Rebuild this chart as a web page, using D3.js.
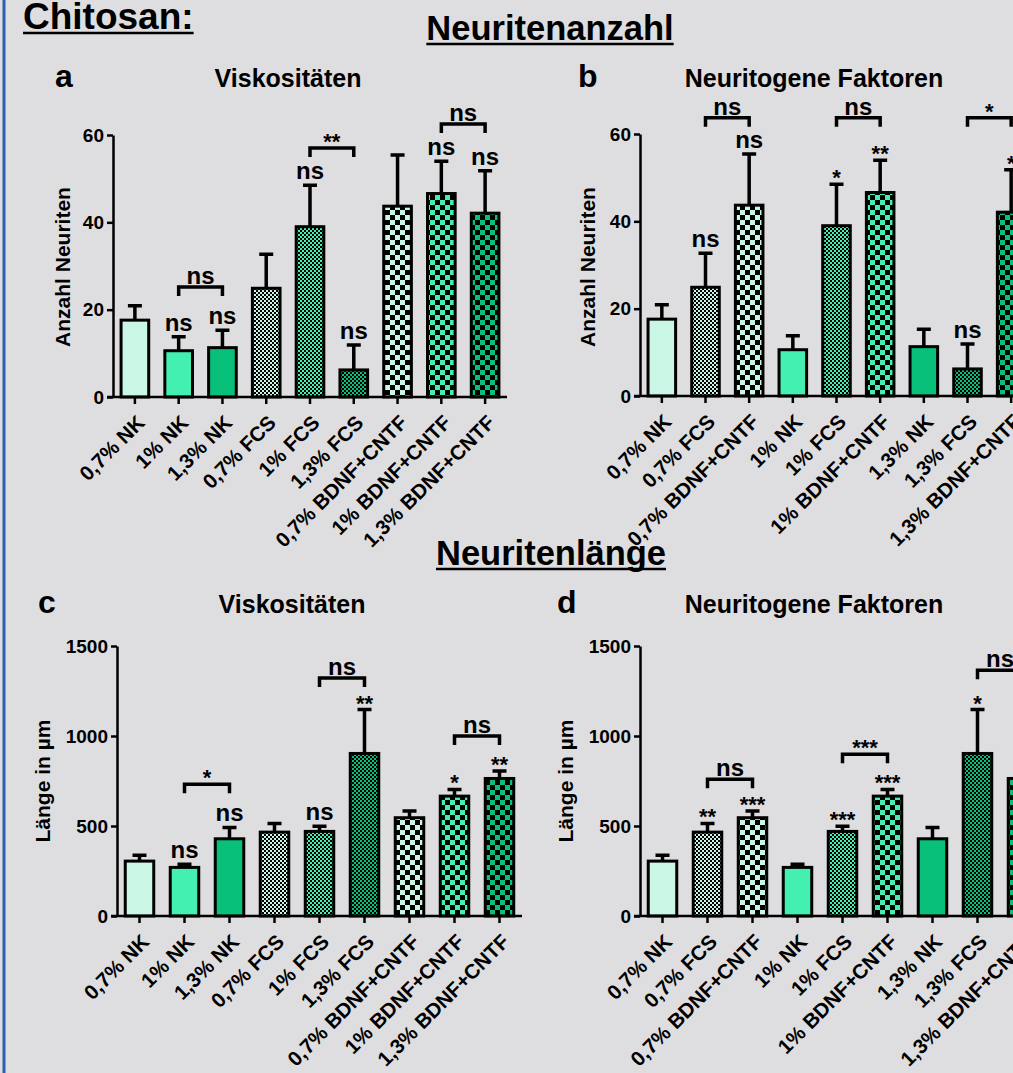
<!DOCTYPE html>
<html>
<head>
<meta charset="utf-8">
<script src="https://cdn.jsdelivr.net/npm/d3@7"></script>
<style>
  body { margin: 0; background: #dedee0; overflow: hidden; }
  svg text { font-family: "Liberation Sans", Arial, sans-serif; font-weight: bold; fill: #000; }
</style>
</head>
<body>
<div id="chart"></div>
<script>
// groups in "Viskositäten" order
var groupLabels = ["0,7% NK", "1% NK", "1,3% NK", "0,7% FCS", "1% FCS", "1,3% FCS",
  "0,7% BDNF+CNTF", "1% BDNF+CNTF", "1,3% BDNF+CNTF"];
var viscOrder = [0, 1, 2, 3, 4, 5, 6, 7, 8];
var factorOrder = [0, 3, 6, 1, 4, 7, 2, 5, 8];
var barConc = [0, 1, 2, 0, 1, 2, 0, 1, 2];
var barType = ["nk", "nk", "nk", "fcs", "fcs", "fcs", "bdnf", "bdnf", "bdnf"];
var concColors = ["#c9f6e5", "#44f0b1", "#09c07b"];

// Neuritenanzahl (mean, SEM)
var countMean = [17.6, 10.6, 11.3, 24.9, 39.0, 6.2, 43.7, 46.6, 42.1];
var countSem = [3.3, 3.2, 4.0, 7.8, 9.5, 5.7, 11.7, 7.4, 9.7];
// Neuritenlänge in µm (mean, SEM)
var lengthMean = [305, 270, 429, 466, 470, 903, 546, 666, 764];
var lengthSem = [32, 18, 63, 48, 29, 244, 37, 37, 42];

var countTicks = [0, 20, 40, 60];
var lengthTicks = [0, 500, 1000, 1500];

// significance above each bar (in plotted order)
var starsA = ["", "ns", "ns", "", "ns", "ns", "", "ns", "ns"];
var starsB = ["", "ns", "ns", "", "*", "**", "", "ns", "*"];
var starsC = ["", "ns", "ns", "", "ns", "**", "", "*", "**"];
var starsD = ["", "**", "***", "", "***", "***", "", "*", "**"];

// brackets: [from bar, to bar, label, level in data units]
var bracketsA = [[1, 2, "ns", 25.2], [4, 5, "**", 57.0], [7, 8, "ns", 62.5]];
var bracketsB = [[1, 2, "ns", 63.7], [4, 5, "ns", 63.7], [7, 8, "*", 63.7]];
var bracketsC = [[1, 2, "*", 732], [4, 5, "ns", 1322], [7, 8, "ns", 1000]];
var bracketsD = [[1, 2, "ns", 760], [4, 5, "***", 899], [7, 8, "ns", 1365]];

var W = 1013, H = 1073;
var svg = d3.select("#chart").append("svg")
  .attr("width", W).attr("height", H);

svg.append("rect").attr("width", W).attr("height", H).attr("fill", "#dedee0");
svg.append("line").attr("x1", 4).attr("x2", 4).attr("y1", 0).attr("y2", H)
  .attr("stroke", "#2b5db2").attr("stroke-width", 3);

// patterns: fine checker for FCS, coarse checker for BDNF+CNTF
var defs = svg.append("defs");
concColors.forEach(function (c, i) {
  var p1 = defs.append("pattern").attr("id", "fcs" + i)
    .attr("patternUnits", "userSpaceOnUse").attr("width", 4).attr("height", 4);
  p1.append("rect").attr("width", 4).attr("height", 4).attr("fill", "#000");
  p1.append("rect").attr("width", 2).attr("height", 2).attr("fill", c);
  p1.append("rect").attr("x", 2).attr("y", 2).attr("width", 2).attr("height", 2).attr("fill", c);

  var p2 = defs.append("pattern").attr("id", "bdnf" + i)
    .attr("patternUnits", "userSpaceOnUse").attr("width", 10).attr("height", 10);
  p2.append("rect").attr("width", 10).attr("height", 10).attr("fill", "#000");
  p2.append("rect").attr("width", 5).attr("height", 5).attr("fill", c);
  p2.append("rect").attr("x", 5).attr("y", 5).attr("width", 5).attr("height", 5).attr("fill", c);
});

function barFill(i) {
  if (barType[i] == "nk") return concColors[barConc[i]];
  return "url(#" + barType[i] + barConc[i] + ")";
}

function makePanel(p) {
  var x = d3.scaleBand().domain(d3.range(p.order.length))
    .range([p.left, p.right]).paddingInner(0.3).paddingOuter(0.15);
  var y = d3.scaleLinear().domain([0, p.max]).range([p.bottom, p.top]);
  var g = svg.append("g");

  var data = p.order.map(function (i, k) {
    return { i: i, k: k, mean: p.mean[i], top: p.mean[i] + p.sem[i], star: p.stars[k] };
  });

  // error bars (drawn first, the bar outline covers the base)
  g.selectAll(".err").data(data).enter().append("path")
    .attr("d", function (d) {
      var cx = x(d.k) + x.bandwidth() / 2;
      return "M" + cx + "," + y(d.mean) + "V" + y(d.top) + "M" + (cx - 7) + "," + y(d.top) + "H" + (cx + 7);
    })
    .attr("stroke", "#000").attr("stroke-width", 3.5).attr("fill", "none");

  g.selectAll(".bar").data(data).enter().append("rect")
    .attr("x", function (d) { return x(d.k) + 1.5; })
    .attr("y", function (d) { return y(d.mean); })
    .attr("width", x.bandwidth() - 3)
    .attr("height", function (d) { return y(0) - y(d.mean); })
    .attr("fill", function (d) { return barFill(d.i); })
    .attr("stroke", "#000").attr("stroke-width", 3);

  // axes
  var yAxis = g.append("g").attr("transform", "translate(" + p.left + ",0)")
    .call(d3.axisLeft(y).tickValues(p.ticks).tickFormat(d3.format("d"))
      .tickSize(6).tickSizeOuter(0).tickPadding(3));
  yAxis.select(".domain").attr("stroke-width", 2.5);
  yAxis.selectAll(".tick line").attr("stroke-width", 2.5);
  yAxis.selectAll("text").style("font-size", "19px");

  var xAxis = g.append("g").attr("transform", "translate(0," + p.bottom + ")")
    .call(d3.axisBottom(x).tickSize(7).tickSizeOuter(0).tickFormat(""));
  xAxis.select(".domain").attr("stroke-width", 2.5)
    .attr("d", "M" + (p.left - 6) + ",0H" + p.right);
  xAxis.selectAll(".tick line").attr("stroke-width", 2.5);

  g.selectAll(".xlab").data(data).enter().append("text")
    .attr("transform", function (d) {
      return "translate(" + (x(d.k) + x.bandwidth() / 2 + 11) + "," + (p.bottom + 27) + ") rotate(-45)";
    })
    .attr("text-anchor", "end")
    .style("font-size", "20.5px")
    .text(function (d) { return groupLabels[d.i]; });

  // significance vs. control
  g.selectAll(".sig").data(data.filter(function (d) { return d.star != ""; })).enter().append("text")
    .attr("x", function (d) { return x(d.k) + x.bandwidth() / 2; })
    .attr("y", function (d) { return d.star == "ns" ? y(d.top) - 6 : y(d.top) + 1; })
    .attr("text-anchor", "middle")
    .style("font-size", function (d) { return d.star == "ns" ? "24px" : "22px"; })
    .text(function (d) { return d.star; });

  // brackets
  p.brackets.forEach(function (b) {
    var xa = x(b[0]) + x.bandwidth() / 2, xb = x(b[1]) + x.bandwidth() / 2;
    var yb = y(b[3]);
    g.append("path")
      .attr("d", "M" + xa + "," + (yb + 9) + "V" + yb + "H" + xb + "V" + (yb + 9))
      .attr("fill", "none").attr("stroke", "#000").attr("stroke-width", 3.5);
    g.append("text")
      .attr("x", (xa + xb) / 2)
      .attr("y", b[2] == "ns" ? yb - 3 : yb + 1)
      .attr("text-anchor", "middle")
      .style("font-size", b[2] == "ns" ? "24px" : "22px")
      .text(b[2]);
  });

  // panel letter, title, y label
  svg.append("text").attr("x", p.letterX).attr("y", p.titleY)
    .style("font-size", "32px").text(p.letter);
  svg.append("text").attr("x", p.titleX).attr("y", p.titleY)
    .attr("text-anchor", "middle").style("font-size", "25px").text(p.title);
  svg.append("text")
    .attr("transform", "translate(" + p.ylabX + "," + p.ylabY + ") rotate(-90)")
    .attr("text-anchor", "middle").style("font-size", "21px").text(p.ylab);
}

makePanel({ left: 113, right: 507, top: 135, bottom: 397, max: 60, ticks: countTicks,
  order: viscOrder, mean: countMean, sem: countSem, stars: starsA, brackets: bracketsA,
  letter: "a", letterX: 55, title: "Viskositäten", titleX: 288, titleY: 87,
  ylab: "Anzahl Neuriten", ylabX: 70, ylabY: 267 });
makePanel({ left: 640, right: 1033, top: 134, bottom: 396, max: 60, ticks: countTicks,
  order: factorOrder, mean: countMean, sem: countSem, stars: starsB, brackets: bracketsB,
  letter: "b", letterX: 578, title: "Neuritogene Faktoren", titleX: 814, titleY: 87,
  ylab: "Anzahl Neuriten", ylabX: 595, ylabY: 267 });
makePanel({ left: 117, right: 522, top: 646, bottom: 916, max: 1500, ticks: lengthTicks,
  order: viscOrder, mean: lengthMean, sem: lengthSem, stars: starsC, brackets: bracketsC,
  letter: "c", letterX: 38, title: "Viskositäten", titleX: 292, titleY: 613,
  ylab: "Länge in µm", ylabX: 50, ylabY: 781 });
makePanel({ left: 640, right: 1045, top: 646, bottom: 916, max: 1500, ticks: lengthTicks,
  order: factorOrder, mean: lengthMean, sem: lengthSem, stars: starsD, brackets: bracketsD,
  letter: "d", letterX: 557, title: "Neuritogene Faktoren", titleX: 814, titleY: 613,
  ylab: "Länge in µm", ylabX: 573, ylabY: 781 });

// headings with underline
function heading(txt, x, yy, size, anchor) {
  var t = svg.append("text").attr("x", x).attr("y", yy)
    .attr("text-anchor", anchor).style("font-size", size + "px").text(txt);
  var bb = t.node().getBBox();
  svg.append("line").attr("x1", bb.x).attr("x2", bb.x + bb.width)
    .attr("y1", yy + 4).attr("y2", yy + 4)
    .attr("stroke", "#000").attr("stroke-width", 2.5);
}
heading("Chitosan:", 23, 29, 37, "start");
heading("Neuritenanzahl", 550, 40, 34.5, "middle");
heading("Neuritenlänge", 551, 565, 34.5, "middle");
</script>
</body>
</html>
